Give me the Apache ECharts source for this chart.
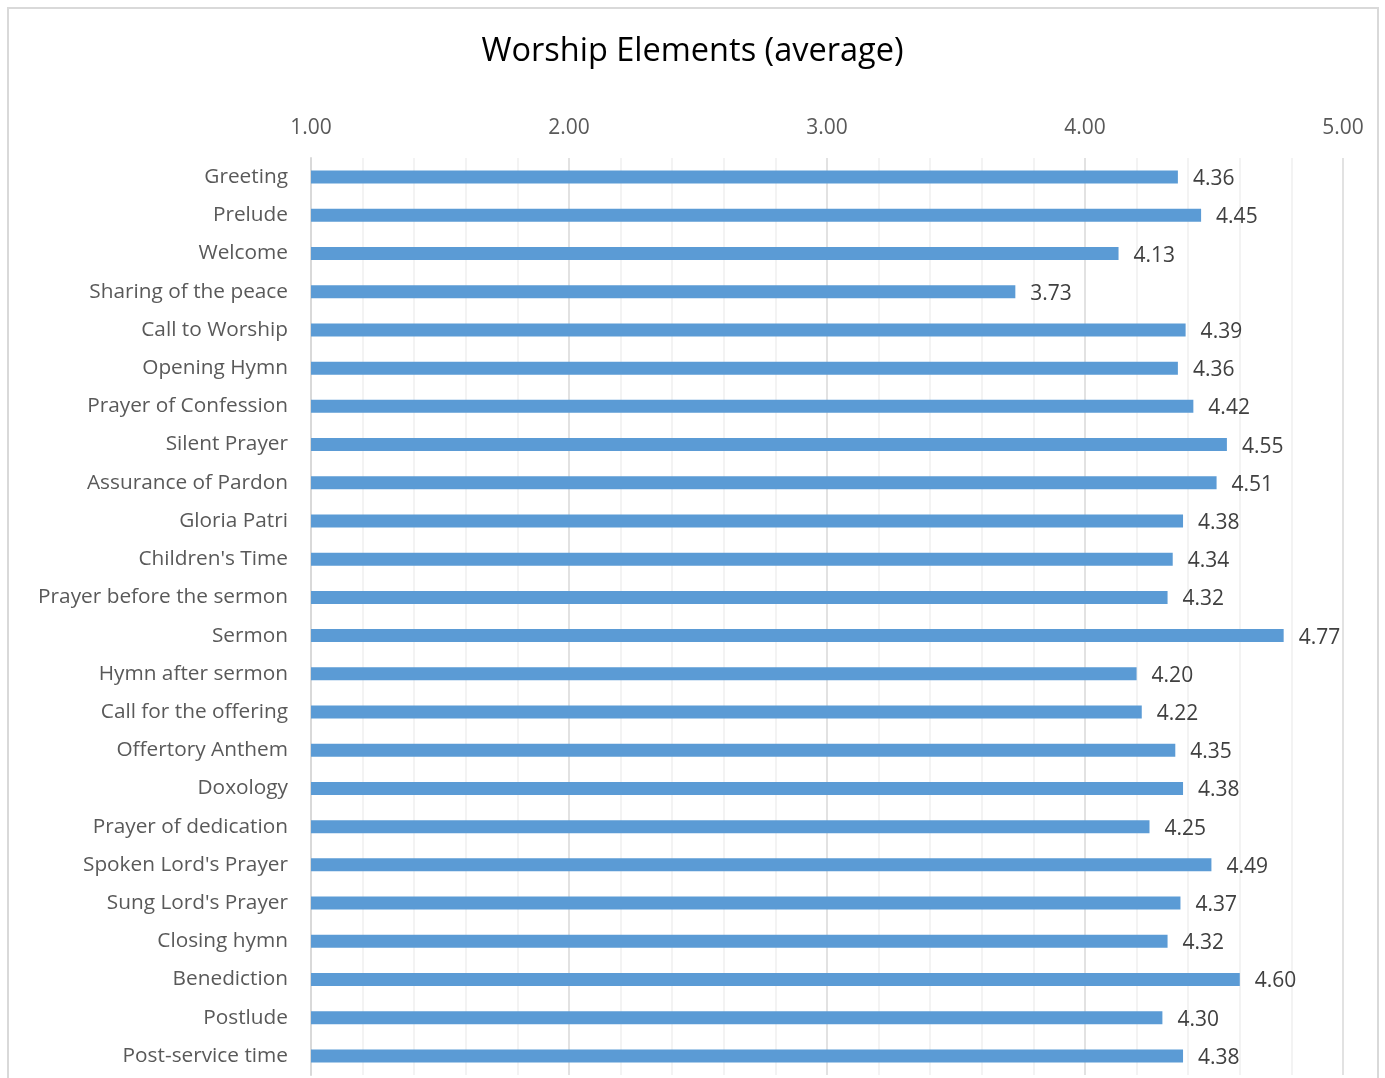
<!DOCTYPE html>
<html><head><meta charset="utf-8">
<script src="https://cdn.jsdelivr.net/npm/echarts@6/dist/echarts.min.js"></script>
<style>
html,body{margin:0;padding:0;background:#fff;}
#frame{position:absolute;left:7px;top:7px;width:1372px;height:1080px;border:2px solid #d9d9d9;box-sizing:border-box;}
#chart{position:absolute;left:0;top:0;width:1385px;height:1078px;}
</style></head>
<body>
<div id="frame"></div>
<div id="chart"></div>
<script>
const categories = ["Greeting","Prelude","Welcome","Sharing of the peace","Call to Worship","Opening Hymn","Prayer of Confession","Silent Prayer","Assurance of Pardon","Gloria Patri","Children's Time","Prayer before the sermon","Sermon","Hymn after sermon","Call for the offering","Offertory Anthem","Doxology","Prayer of dedication","Spoken Lord's Prayer","Sung Lord's Prayer","Closing hymn","Benediction","Postlude","Post-service time"];
const values = [4.36,4.45,4.13,3.73,4.39,4.36,4.42,4.55,4.51,4.38,4.34,4.32,4.77,4.20,4.22,4.35,4.38,4.25,4.49,4.37,4.32,4.60,4.30,4.38];
const titleText = "Worship Elements (average)";
const FONT = "'Open Sans', sans-serif";
const chart = echarts.init(document.getElementById('chart'), null, {renderer:'canvas'});
chart.setOption({
  animation:false,
  title:{text:titleText,left:'center',top:30,textStyle:{fontFamily:FONT,fontSize:32.5,fontWeight:'normal',color:'#000'}},
  grid:{left:311,right:42,top:158,bottom:3,containLabel:false},
  xAxis:{type:'value',position:'top',min:1,max:5,interval:1,
    axisLine:{show:false},axisTick:{show:false},
    axisLabel:{formatter:v=>v.toFixed(2),fontFamily:FONT,fontSize:21,color:'#595959',margin:19},
    splitLine:{show:true,lineStyle:{color:'#d9d9d9',width:1.5}},
    minorTick:{show:false,splitNumber:5},
    minorSplitLine:{show:true,lineStyle:{color:'#efefef',width:1.5}}},
  yAxis:{type:'category',data:categories,inverse:true,
    axisLine:{show:true,lineStyle:{color:'#d9d9d9',width:2}},axisTick:{show:false},
    axisLabel:{fontFamily:FONT,fontSize:20.8,color:'#595959',margin:23}},
  series:[{type:'bar',data:values,barWidth:13,
    itemStyle:{color:'#5b9bd5'},
    label:{show:true,position:'right',distance:15,offset:[0,2],formatter:p=>p.value.toFixed(2),fontFamily:FONT,fontSize:21,color:'#404040'}}]
});
</script></body></html>
